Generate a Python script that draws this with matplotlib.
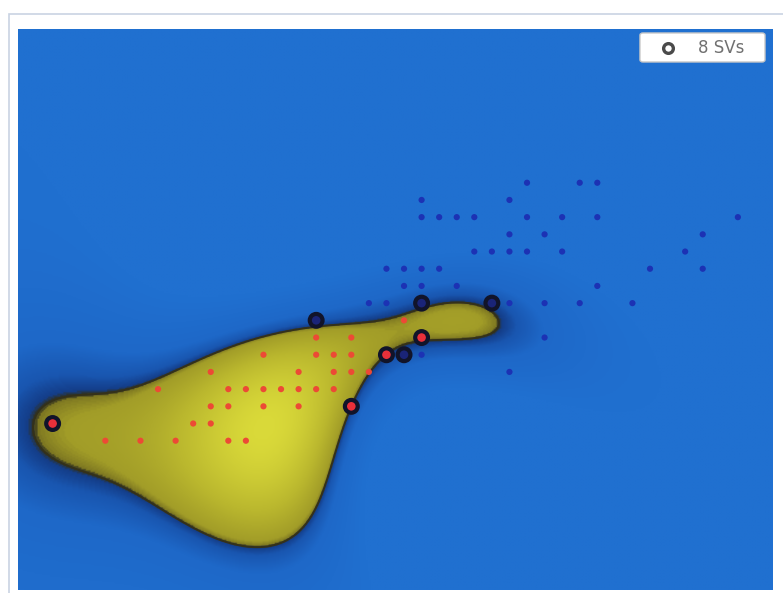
import numpy as np
import matplotlib
matplotlib.use("Agg")
import matplotlib.pyplot as plt
from matplotlib.colors import LinearSegmentedColormap, TwoSlopeNorm
from matplotlib.patches import Rectangle, FancyBboxPatch

# training points on an integer grid (class +1 = red, class -1 = blue)
pos_x = [3, 5, 7, 10, 11, 8, 9, 9, 10, 12, 14, 6, 10, 11, 12, 13, 14, 15, 16,
         9, 14, 16, 17, 18, 12, 15, 16, 17, 15, 17, 20]
pos_y = [-1, -1, -1, -1, -1, 0, 0, 1, 1, 1, 1, 2, 2, 2, 2, 2, 2, 2, 2,
         3, 3, 3, 3, 3, 4, 4, 4, 4, 5, 5, 6]
neg_x = [27, 30, 31, 21, 26, 21, 22, 23, 24, 27, 29, 31, 39, 26, 28, 37,
         24, 25, 26, 27, 29, 36, 19, 20, 21, 22, 34, 37, 20, 21, 23, 31,
         18, 19, 26, 28, 30, 33, 28, 21, 26]
neg_y = [14, 14, 14, 13, 13, 12, 12, 12, 12, 12, 12, 12, 12, 11, 11, 11,
         10, 10, 10, 10, 10, 10, 9, 9, 9, 9, 9, 9, 8, 8, 8, 8,
         7, 7, 7, 7, 7, 7, 5, 4, 3]

# support vectors, their labels and dual coefficients (alpha_i * y_i)
sv_x = [0, 17, 19, 21, 15, 20, 21, 25]
sv_y = [0, 1, 4, 5, 6, 4, 7, 7]
sv_label = [1, 1, 1, 1, -1, -1, -1, -1]
dual_coef = [0.99, 7.51, 89.14, 132.49, -5.50, -185.85, -33.39, -5.04]
gamma = 0.014
bias = -1.0

xlim = (-1.97, 41.0)
ylim = (-9.68, 22.94)


def decision(gx, gy):
    f = np.full(gx.shape, bias)
    for sx, sy, c in zip(sv_x, sv_y, dual_coef):
        f += c * np.exp(-gamma * ((gx - sx) ** 2 + (gy - sy) ** 2))
    return f


gx, gy = np.meshgrid(np.linspace(*xlim, 500), np.linspace(*ylim, 380))
field = decision(gx, gy)


def rgb(r, g, b):
    return (r / 255, g / 255, b / 255)


cmap = LinearSegmentedColormap.from_list("svm", [
    (0.00, rgb(32, 112, 208)),
    (0.35, rgb(30, 104, 200)),
    (0.45, rgb(25, 86, 176)),
    (0.49, rgb(20, 62, 138)),
    (0.50, rgb(48, 48, 30)),
    (0.506, rgb(128, 122, 34)),
    (0.53, rgb(162, 157, 40)),
    (0.70, rgb(186, 183, 46)),
    (1.00, rgb(220, 220, 58)),
])
norm = TwoSlopeNorm(vmin=-1.0, vcenter=0.0, vmax=1.1)

fig = plt.figure(figsize=(7.83, 5.93), dpi=100)
ax = fig.add_axes([18 / 783, 3 / 593, 755 / 783, 561 / 593])
ax.imshow(field, extent=(*xlim, *ylim), origin="lower", cmap=cmap, norm=norm,
          interpolation="bilinear", aspect="auto")
ax.contour(gx, gy, field, levels=[0], colors=["#34311a"], linewidths=1.4)

ax.scatter(pos_x, pos_y, s=20, color="#ec4a35", edgecolors="none", zorder=3)
ax.scatter(neg_x, neg_y, s=20, color="#1c32b4", edgecolors="none", zorder=3)
sv_face = ["#e8303a" if l > 0 else "#1a2478" for l in sv_label]
ax.scatter(sv_x, sv_y, s=85, c=sv_face, edgecolors="#11142a", linewidths=3.0,
           zorder=4)

ax.set_xlim(*xlim)
ax.set_ylim(*ylim)
ax.axis("off")

# legend box with the support-vector count
ax.add_patch(FancyBboxPatch((0.8238, 0.9412), 0.1656, 0.0517,
                            boxstyle="round,pad=0,rounding_size=0.004",
                            transform=ax.transAxes, facecolor="white",
                            edgecolor="#c8c8c8", linewidth=1.0, zorder=5))
ax.plot([0.8609], [0.967], marker="o", markersize=7, markerfacecolor="white",
        markeredgecolor="#4a4a4a", markeredgewidth=2.4,
        transform=ax.transAxes, zorder=6, clip_on=False)
ax.text(0.9007, 0.967, f"{len(sv_x)} SVs", transform=ax.transAxes,
        fontsize=12, color="#707070", va="center", ha="left", zorder=6)

# light panel frame around the plot
fig.patches.append(Rectangle((9 / 783, -0.05), 1.2, 1.05 - 14 / 593,
                             transform=fig.transFigure, fill=False,
                             edgecolor="#c9d3e3", linewidth=1.2))

fig.savefig("out.png", dpi=100)
